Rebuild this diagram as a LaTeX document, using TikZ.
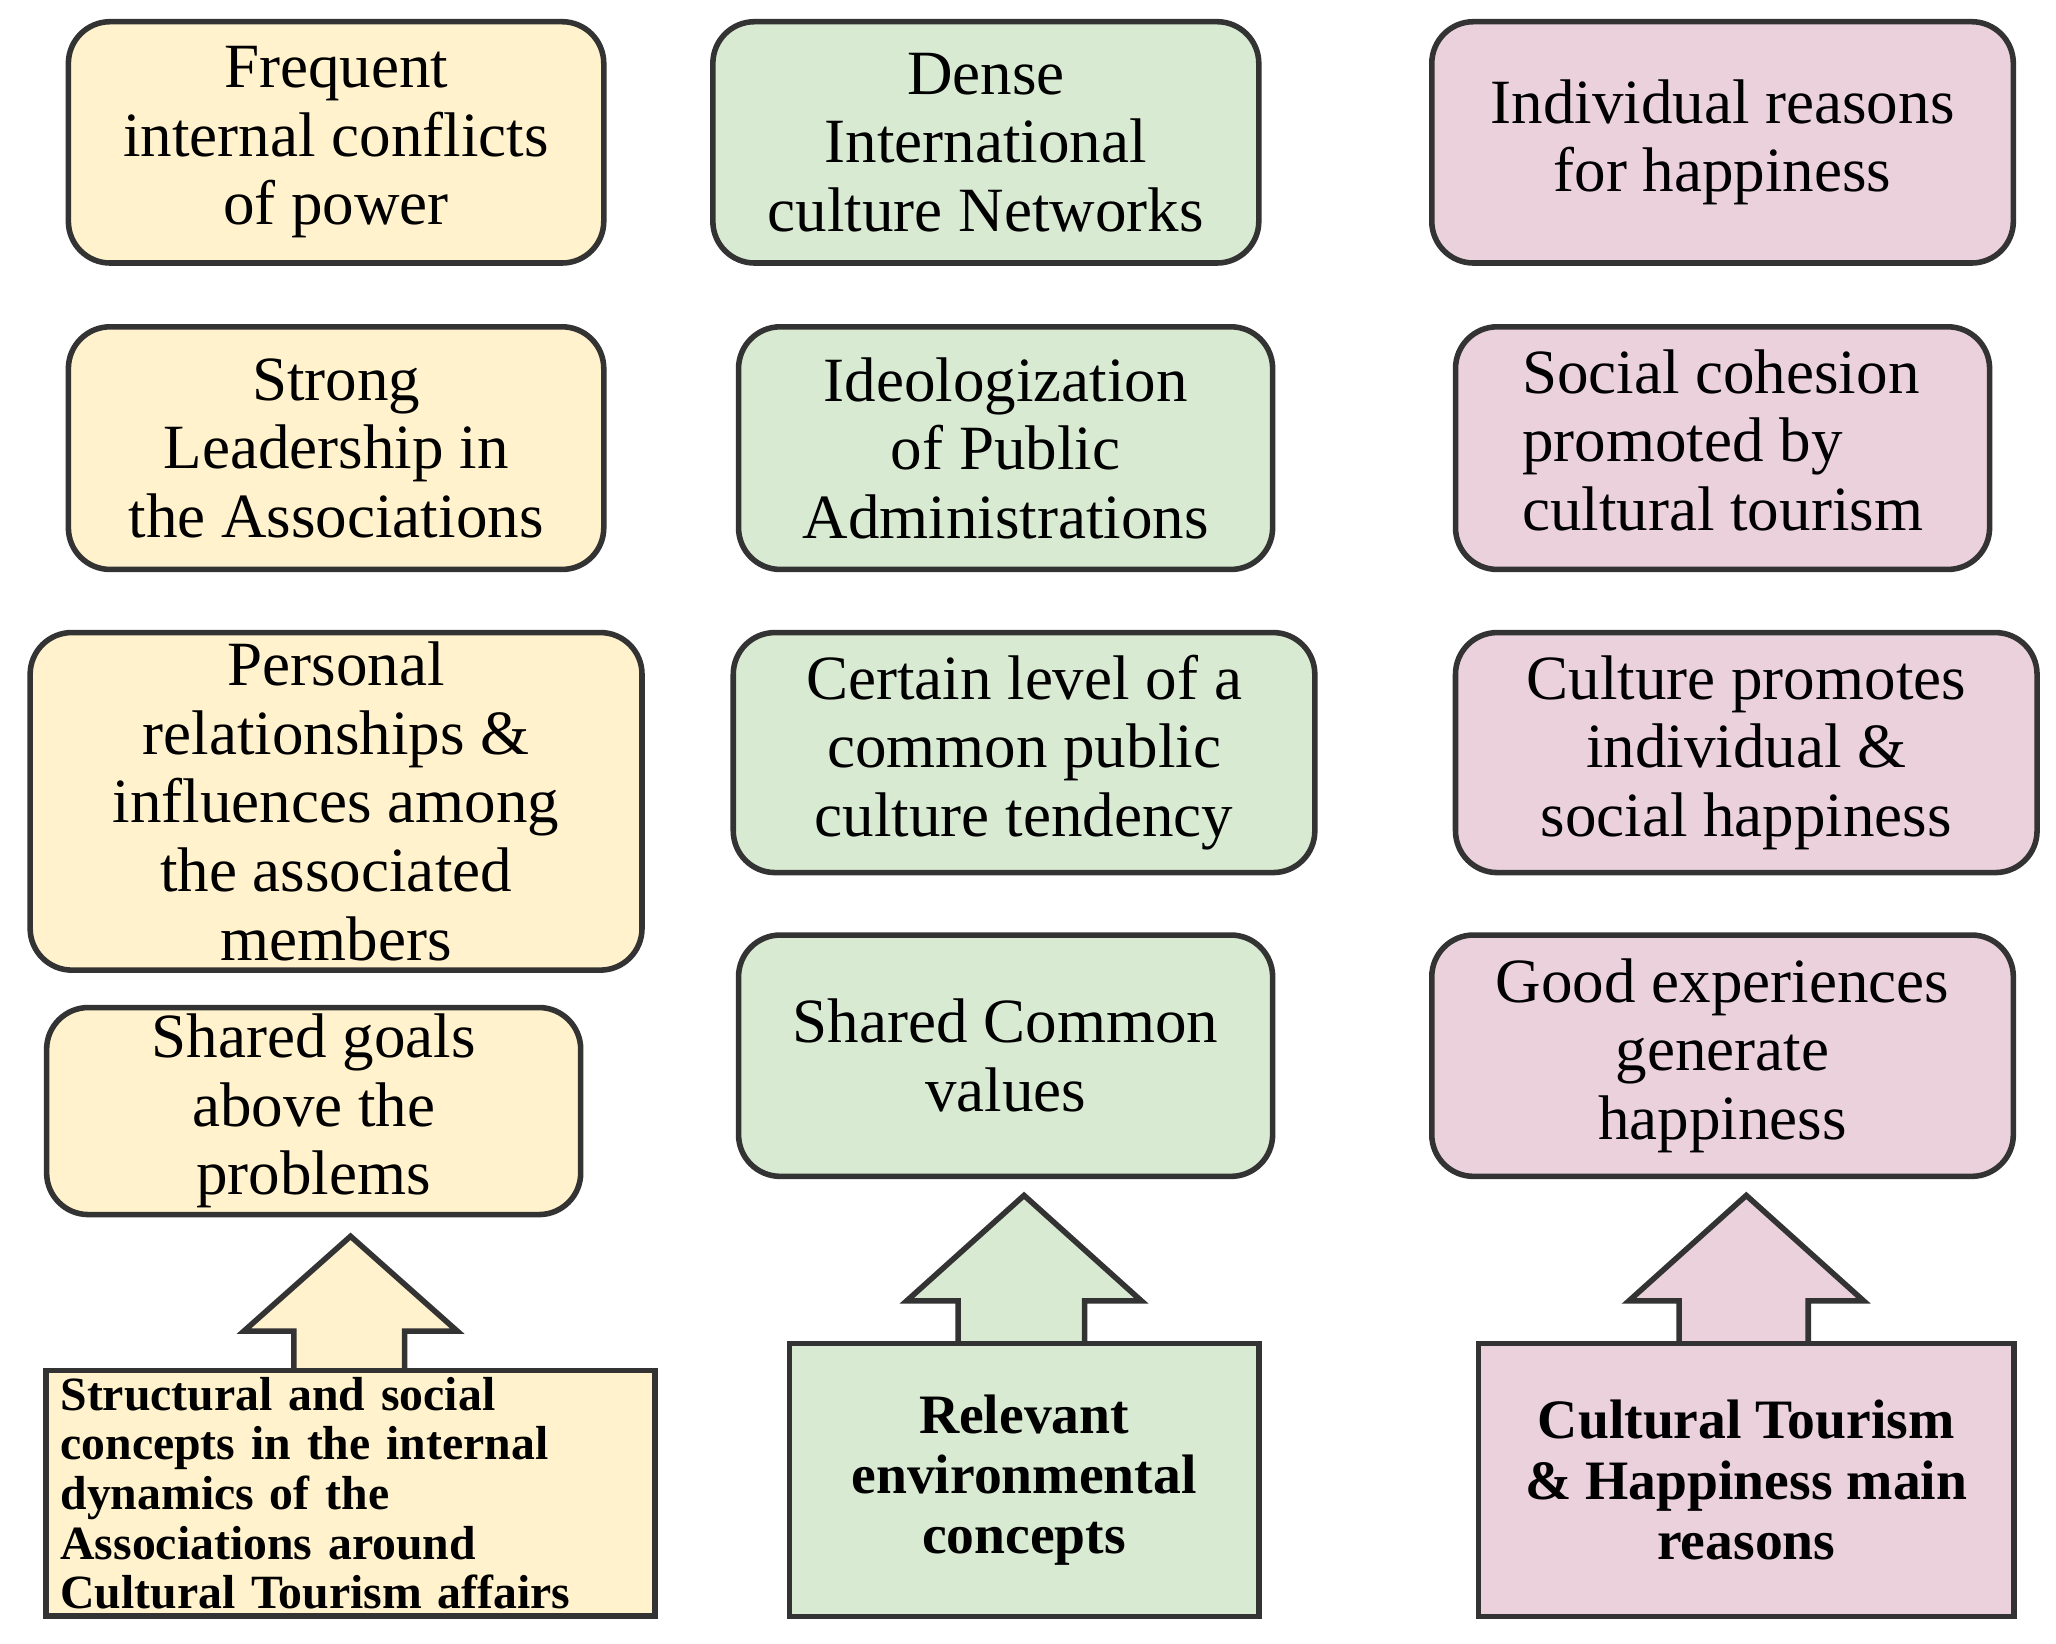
\documentclass[tikz,border=0pt]{standalone}
\usepackage{fontspec}
\setmainfont{Liberation Serif}
\begin{document}
\begin{tikzpicture}[x=0.01cm,y=-0.01cm,
 box/.style={draw=black!80,line width=1.2pt,rounded corners=9pt,align=center,inner sep=0pt,font=\fontsize{13.6}{14.8}\selectfont},
 Y/.style={fill=yellowf},G/.style={fill=greenf},P/.style={fill=pinkf},
 base/.style={draw=black!80,line width=1.2pt,inner sep=0pt,font=\bfseries\fontsize{12}{13}\selectfont,align=center}]
\definecolor{yellowf}{HTML}{FFF2CC}
\definecolor{greenf}{HTML}{D9EAD3}
\definecolor{pinkf}{HTML}{EAD1DC}
\useasboundingbox (0,0) rectangle (1560,1247);
% yellow
\node[box,Y,minimum width=4.06cm,minimum height=1.83cm] (y1) at (255,108) {Frequent\\internal conflicts\\of power};
\node[box,Y,minimum width=4.06cm,minimum height=1.84cm] (y2) at (255,340) {Strong\\Leadership in\\the Associations};
\node[box,Y,minimum width=4.64cm,minimum height=2.56cm] (y3) at (255,608) {Personal\\relationships \&\\influences among\\the associated\\members};
\node[box,Y,minimum width=4.05cm,minimum height=1.57cm] (y4) at (238,843) {Shared goals\\above the\\problems};
% green
\node[box,G,minimum width=4.14cm,minimum height=1.83cm] (g1) at (748,108) {Dense\\International\\culture Networks};
\node[box,G,minimum width=4.05cm,minimum height=1.84cm] (g2) at (763,340) {Ideologization\\of Public\\Administrations};
\node[box,G,minimum width=4.41cm,minimum height=1.82cm] (g3) at (777,571) {Certain level of a\\common public\\culture tendency};
\node[box,G,minimum width=4.05cm,minimum height=1.83cm] (g4) at (763,801) {Shared Common\\values};
% pink
\node[box,P,minimum width=4.41cm,minimum height=1.83cm] (p1) at (1307,108) {Individual reasons\\for happiness};
\node[box,P,minimum width=4.05cm,minimum height=1.84cm] (p2) at (1307,340) {\begin{tabular}{@{}l@{}}Social cohesion\\promoted by\\cultural tourism\end{tabular}};
\node[box,P,minimum width=4.41cm,minimum height=1.82cm] (p3) at (1325,571) {Culture promotes\\individual \&\\social happiness};
\node[box,P,minimum width=4.41cm,minimum height=1.83cm] (p4) at (1307,801) {Good experiences\\generate\\happiness};
% arrows
\draw[fill=yellowf,draw=black!80,line width=1.2pt] (223,1040)--(223,1010)--(185,1010)--(266,938)--(347,1010)--(307,1010)--(307,1040);
\draw[fill=greenf,draw=black!80,line width=1.2pt] (727,1019)--(727,987)--(688,987)--(777,907)--(866,987)--(823,987)--(823,1019);
\draw[fill=pinkf,draw=black!80,line width=1.2pt] (1274,1019)--(1274,987)--(1236,987)--(1325,907)--(1414,987)--(1372,987)--(1372,1019);
\node[base,fill=yellowf,minimum width=4.62cm,minimum height=1.86cm,text width=4.4cm,align=left,font=\bfseries\fontsize{10.3}{10.7}\selectfont] (yb) at (266,1133) {Structural and social\\concepts in the internal\\dynamics of the\\Associations around\\Cultural Tourism affairs};
\node[base,fill=greenf,minimum width=3.56cm,minimum height=2.07cm] (gb) at (777,1123) {Relevant\\environmental\\concepts};
\node[base,fill=pinkf,minimum width=4.06cm,minimum height=2.07cm] (pb) at (1325,1123) {Cultural Tourism\\\& Happiness main\\reasons};
\end{tikzpicture}
\end{document}
